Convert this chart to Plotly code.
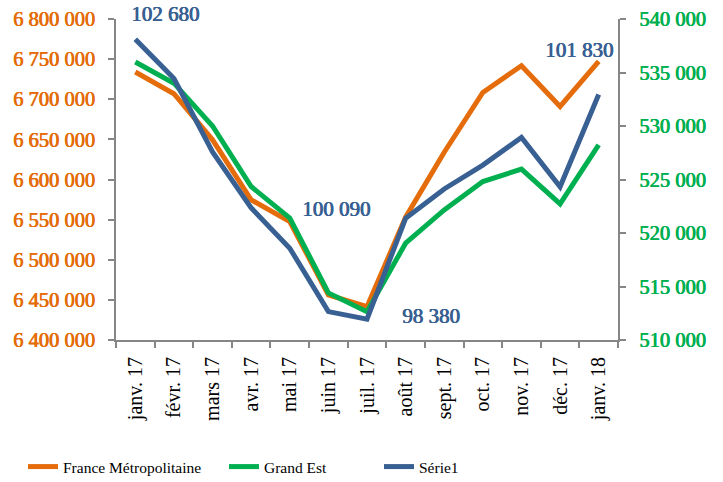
import plotly.graph_objects as go

months = ["janv. 17", "févr. 17", "mars 17", "avr. 17", "mai 17", "juin 17", "juil. 17",
          "août 17", "sept. 17", "oct. 17", "nov. 17", "déc. 17", "janv. 18"]
france = [6733900, 6706900, 6649500, 6574700, 6547600, 6456200, 6441600,
          6553000, 6634000, 6708500, 6741800, 6691000, 6747100]
grand_est = [535980, 534000, 530000, 524340, 521400, 514400, 512650,
             519050, 522160, 524810, 525970, 522720, 528240]
serie1 = [102680, 102076, 100950, 100090, 99469, 98496, 98380,
          99929, 100380, 100746, 101171, 100414, 101830]

left_ticks = [6400000, 6450000, 6500000, 6550000, 6600000, 6650000, 6700000, 6750000, 6800000]
right_ticks = [510000, 515000, 520000, 525000, 530000, 535000, 540000]

ORANGE = "#E46C0A"
GREEN = "#00B050"
BLUE = "#386092"
AXIS = "#868686"
FONT = "Liberation Serif"

W, H = 723, 482


def fmt(v):
    return "{:,}".format(v).replace(",", " ")


def boldfont(size, color):
    return dict(family=FONT, size=size, color=color,
                shadow="0.7px 0 0 " + color + ", 0.35px 0 0 " + color)


fig = go.Figure()
fig.add_trace(go.Scatter(x=months, y=france, name="France Métropolitaine", mode="lines",
                         line=dict(color=ORANGE, width=5), yaxis="y", legend="legend"))
fig.add_trace(go.Scatter(x=months, y=grand_est, name="Grand Est", mode="lines",
                         line=dict(color=GREEN, width=5), yaxis="y2", legend="legend2"))
fig.add_trace(go.Scatter(x=months, y=serie1, name="Série1", mode="lines",
                         line=dict(color=BLUE, width=5), yaxis="y3", legend="legend3"))

labels = [
    (0, 30, 25),
    (3, 85, -1),
    (6, 64, 3),
    (12, -20, 45),
]
for idx, dx, dy in labels:
    fig.add_annotation(x=months[idx], y=serie1[idx], xref="x", yref="y3",
                       text=fmt(serie1[idx]), showarrow=False,
                       xshift=dx, yshift=dy,
                       font=boldfont(21, BLUE))

legend_common = dict(orientation="h", xref="container", yref="container",
                     yanchor="middle", y=1 - 467 / H, xanchor="left",
                     font=dict(family=FONT, size=15.5, color="black"),
                     bgcolor="rgba(0,0,0,0)", borderwidth=0)

fig.update_layout(
    template="none",
    width=W, height=H,
    margin=dict(l=116, r=W - 618, t=19, b=H - 340, autoexpand=False),
    plot_bgcolor="white", paper_bgcolor="white",
    showlegend=True,
    legend=dict(x=23 / W, **legend_common),
    legend2=dict(x=224 / W, **legend_common),
    legend3=dict(x=379 / W, **legend_common),
    xaxis=dict(type="category", range=[-0.5, len(months) - 0.5],
               tickson="boundaries", ticks="outside", ticklen=6,
               tickcolor=AXIS, tickwidth=1.5, showline=True, linecolor=AXIS, linewidth=2,
               showgrid=False, tickangle=-90, automargin=False, ticklabelstandoff=7,
               tickfont=dict(family=FONT, size=20, color="black")),
    yaxis=dict(range=[6400000, 6800000], tickvals=left_ticks,
               ticktext=[fmt(v) for v in left_ticks], automargin=False,
               ticks="outside", ticklen=6, tickcolor=AXIS, tickwidth=1.5, showline=True,
               linecolor=AXIS, linewidth=2, showgrid=False, zeroline=False,
               ticklabelstandoff=9,
               tickfont=boldfont(20.5, ORANGE)),
    yaxis2=dict(range=[510000, 540000], tickvals=right_ticks,
                ticktext=[fmt(v) for v in right_ticks], automargin=False,
                overlaying="y", side="right",
                ticks="outside", ticklen=6, tickcolor=AXIS, tickwidth=1.5, showline=True,
                linecolor=AXIS, linewidth=2, showgrid=False, zeroline=False,
                ticklabelstandoff=9,
                tickfont=boldfont(20.5, GREEN)),
    yaxis3=dict(range=[98060, 102990], overlaying="y", visible=False),
)

fig.write_html("out.html", config={"displayModeBar": False},
               post_script="document.body.style.margin='0';")
